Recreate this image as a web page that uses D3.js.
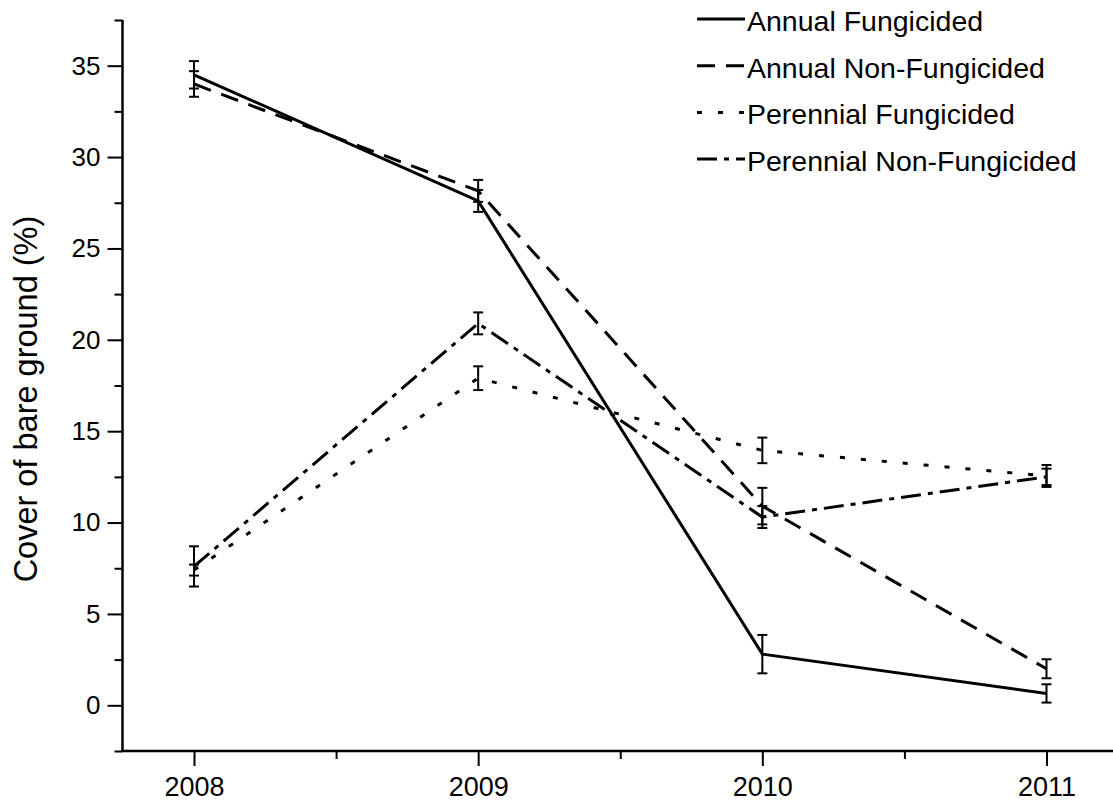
<!DOCTYPE html>
<html>
<head>
<meta charset="utf-8">
<script src="https://cdn.jsdelivr.net/npm/d3@7"></script>
<style>
  body { margin: 0; background: #fff; }
  svg text { font-family: "Liberation Sans", Arial, sans-serif; fill: #000; }
</style>
</head>
<body>
<svg id="chart"></svg>
<script>
const years = [2008, 2009, 2010, 2011];
const yTicks = [0, 5, 10, 15, 20, 25, 30, 35];

const annualFung = [34.5, 27.6, 2.8, 0.65];
const annualFungErr = [0.75, 0.6, 1.05, 0.5];
const annualNonFung = [34.0, 28.15, 10.9, 2.0];
const annualNonFungErr = [0.7, 0.6, 1.0, 0.52];
const perennialFung = [7.4, 17.9, 13.95, 12.55];
const perennialFungErr = [0.3, 0.65, 0.7, 0.6];
const perennialNonFung = [7.6, 20.9, 10.3, 12.5];
const perennialNonFungErr = [1.1, 0.6, 0.6, 0.45];

const seriesNames = ["Annual Fungicided", "Annual Non-Fungicided", "Perennial Fungicided", "Perennial Non-Fungicided"];

const width = 1113, height = 801;
const svg = d3.select("#chart").attr("width", width).attr("height", height);

// axis extents
const x = d3.scaleLinear().domain([2008, 2011]).range([194, 1046.5]);
const y = d3.scaleLinear().domain([-2.5, 37.5]).range([751, 20]);
const xLeft = 122.5, xRight = width;

const series = [
  { name: seriesNames[0], values: annualFung, err: annualFungErr, dash: null },
  { name: seriesNames[1], values: annualNonFung, err: annualNonFungErr, dash: "18,11" },
  { name: seriesNames[2], values: perennialFung, err: perennialFungErr, dash: "5,16" },
  { name: seriesNames[3], values: perennialNonFung, err: perennialNonFungErr, dash: "20,7,5,7" }
];

// axes
const yAxis = d3.axisLeft(y).tickValues(yTicks).tickSize(15).tickPadding(7).tickFormat(d3.format("d"));
const yMinor = d3.axisLeft(y).tickValues(d3.range(-2.5, 38, 5)).tickSize(8).tickFormat("");
const xAxis = d3.axisBottom(x).tickValues(years).tickSize(15).tickPadding(11).tickFormat(d3.format("d"));
const xMinor = d3.axisBottom(x).tickValues([2008.5, 2009.5, 2010.5]).tickSize(8).tickFormat("");

const gy = svg.append("g").attr("transform", `translate(${xLeft},0)`).call(yAxis);
svg.append("g").attr("transform", `translate(${xLeft},0)`).call(yMinor);
const gx = svg.append("g").attr("transform", `translate(0,${y(-2.5)})`).call(xAxis);
svg.append("g").attr("transform", `translate(0,${y(-2.5)})`).call(xMinor);

svg.selectAll(".domain").remove();
svg.selectAll(".tick line").attr("stroke", "#000").attr("stroke-width", 2);
gy.selectAll("text").style("font-size", "26px");
gx.selectAll("text").style("font-size", "27px");

// axis lines
svg.append("line")
  .attr("x1", xLeft).attr("x2", xLeft)
  .attr("y1", y(37.5)).attr("y2", y(-2.5) + 1)
  .attr("stroke", "#000").attr("stroke-width", 2.5);
svg.append("line")
  .attr("x1", xLeft - 1).attr("x2", xRight)
  .attr("y1", y(-2.5)).attr("y2", y(-2.5))
  .attr("stroke", "#000").attr("stroke-width", 2.5);

// y title
svg.append("text")
  .attr("transform", `translate(37,399) rotate(-90)`)
  .attr("text-anchor", "middle")
  .style("font-size", "32.5px")
  .text("Cover of bare ground (%)");

const line = d3.line().x((d, i) => x(years[i])).y(d => y(d));

// error bars
series.forEach(s => {
  const g = svg.append("g");
  s.values.forEach((v, i) => {
    const cx = x(years[i]);
    g.append("line")
      .attr("x1", cx).attr("x2", cx)
      .attr("y1", y(v + s.err[i])).attr("y2", y(v - s.err[i]))
      .attr("stroke", "#000").attr("stroke-width", 2);
    [v + s.err[i], v - s.err[i]].forEach(e => {
      g.append("line")
        .attr("x1", cx - 5).attr("x2", cx + 5)
        .attr("y1", y(e)).attr("y2", y(e))
        .attr("stroke", "#000").attr("stroke-width", 2);
    });
  });
});

// data lines
svg.selectAll(".series")
  .data(series)
  .enter()
  .append("path")
  .attr("class", "series")
  .attr("fill", "none")
  .attr("stroke", "#000")
  .attr("stroke-width", 3)
  .attr("stroke-dasharray", d => d.dash)
  .attr("d", d => line(d.values));

// legend
const legend = svg.append("g").attr("class", "legend");
const items = legend.selectAll(".legend-item")
  .data(series)
  .enter()
  .append("g")
  .attr("class", "legend-item")
  .attr("transform", (d, i) => `translate(697, ${19 + i * 46.7})`);

items.append("line")
  .attr("x1", 0).attr("x2", 48)
  .attr("stroke", "#000").attr("stroke-width", 3)
  .attr("stroke-dasharray", d => d.dash);

items.append("text")
  .attr("x", 50)
  .attr("y", 12)
  .style("font-size", "28.5px")
  .text(d => d.name);
</script>
</body>
</html>
